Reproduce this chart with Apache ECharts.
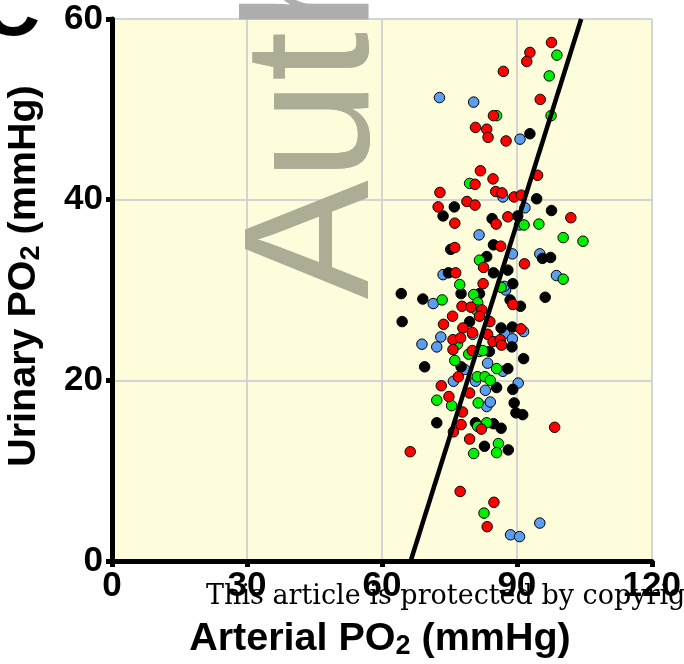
<!DOCTYPE html>
<html>
<head>
<meta charset="utf-8">
<script src="https://cdn.jsdelivr.net/npm/echarts@6/dist/echarts.min.js"></script>
<style>
html,body{margin:0;padding:0;background:#fff;}
#chart{width:684px;height:664px;}
</style>
</head>
<body>
<div id="chart"></div>
<script>
// Arterial PO2 (x) vs Urinary PO2 (y), four groups
const redPts = [
[97.7,57.4],[92.9,56.3],[92.2,55.3],[87.0,54.2],[95.2,51.1],[84.8,49.3],[80.8,48.0],[83.3,47.8],[83.6,46.9],[87.6,46.5],
[81.9,43.2],[84.7,42.3],[94.6,42.7],[80.7,41.7],[72.9,40.8],[85.3,40.9],[86.7,40.75],[89.4,40.3],[91.0,40.5],[72.5,39.2],
[78.9,39.8],[80.7,39.4],[76.2,37.4],[85.4,37.3],[88.0,38.1],[102.0,38.0],[76.2,34.7],[86.4,34.85],[91.7,32.9],[82.6,32.5],
[76.4,31.9],[82.5,30.7],[89.1,28.4],[77.8,28.2],[79.8,28.1],[82.2,27.8],[81.7,27.1],[75.7,27.1],[73.7,26.2],[84.0,26.5],
[78.0,25.8],[80.1,25.3],[90.9,25.7],[75.8,24.5],[77.5,24.7],[75.8,23.4],[83.5,25.1],[84.7,24.3],[86.3,24.5],[86.6,23.9],
[80.1,23.3],[77.0,20.4],[73.2,19.4],[74.9,18.2],[79.5,18.6],[77.9,16.5],[77.6,15.1],[75.9,14.3],[82.1,14.6],[98.4,14.8],
[79.5,13.5],[66.3,12.1],[77.4,7.7],[84.9,6.5],[83.4,3.8]
];
const blackPts = [
[92.9,47.3],[94.4,40.1],[76.1,39.2],[73.6,38.2],[84.5,37.9],[90.2,38.2],[97.7,38.8],[75.3,34.5],[84.8,35.0],[97.5,33.6],
[95.7,33.5],[83.3,33.7],[84.8,31.9],[88.0,32.2],[74.8,31.9],[89.1,30.7],[64.3,29.6],[69.1,29.0],[77.6,29.6],[81.7,29.6],
[88.5,28.9],[90.8,28.2],[96.3,29.2],[64.5,26.5],[79.5,26.5],[86.5,25.8],[89.0,25.9],[88.9,23.7],[83.9,23.2],[91.5,22.4],
[69.5,21.5],[88.0,21.3],[85.5,19.2],[89.1,19.0],[89.4,17.5],[89.8,16.4],[91.3,16.2],[72.2,15.3],[80.8,15.3],[84.8,15.2],
[86.5,14.7],[82.8,12.7],[88.1,12.3],[77.6,21.5]
];
const bluePts = [
[72.8,51.3],[80.4,50.8],[90.7,46.7],[86.9,40.3],[91.8,39.1],[90.6,37.2],[81.6,36.1],[89.0,34.0],[95.1,34.0],[73.6,31.7],
[87.5,30.0],[87.2,30.4],[98.8,31.6],[71.4,28.5],[91.5,25.4],[73.1,24.8],[68.9,24.0],[72.2,23.7],[80.2,25.1],[87.3,25.2],
[89.0,24.6],[81.7,23.2],[78.4,21.2],[83.5,21.9],[86.9,21.0],[80.8,19.9],[75.9,19.9],[90.3,19.7],[83.0,18.9],[83.3,17.1],
[84.1,17.6],[95.1,4.2],[88.6,2.9],[90.6,2.7]
];
const greenPts = [
[98.9,56.0],[97.2,53.7],[85.5,49.3],[97.6,49.3],[79.5,41.8],[91.6,37.2],[94.9,37.3],[100.3,35.8],[104.7,35.4],[81.7,33.3],
[77.3,30.6],[86.5,30.3],[100.3,31.2],[73.4,28.9],[80.4,29.5],[81.3,28.6],[81.0,27.8],[76.8,24.0],[82.4,23.3],[79.3,22.9],
[76.2,22.2],[85.5,21.3],[81.2,20.4],[82.9,20.4],[84.1,20.0],[72.2,17.8],[75.5,17.2],[81.4,17.5],[83.3,15.3],[81.3,14.9],
[85.9,13.0],[80.4,11.9],[85.5,12.0],[82.7,5.3]
];
const fitLine = [[66.4,0],[104.3,60]];
const xTicks = [0,30,60,90,120];
const yTicks = [0,20,40,60];

const chart = echarts.init(document.getElementById('chart'), null, {renderer:'canvas'});
const FONT = 'Liberation Sans, Arial, sans-serif';
function axisCommon(){
  return {
    type:'value',
    axisLine:{show:true,onZero:false,lineStyle:{color:'#000',width:5}},
    axisTick:{show:true,length:6,lineStyle:{color:'#000',width:5}},
    axisLabel:{color:'#000',fontSize:35,fontWeight:'bold',fontFamily:FONT},
    splitLine:{show:true,lineStyle:{color:'#D4D4D4',width:2}}
  };
}
const xa = axisCommon();
Object.assign(xa,{min:xTicks[0],max:xTicks[xTicks.length-1],interval:xTicks[1]-xTicks[0]});
xa.axisLabel.margin = 8;
const ya = axisCommon();
Object.assign(ya,{min:yTicks[0],max:yTicks[yTicks.length-1],interval:yTicks[1]-yTicks[0]});
ya.axisLabel.margin = 9;

function sc(data,color,z){
  return {type:'scatter',data:data,symbol:'circle',symbolSize:10.5,z:z,
    itemStyle:{color:color,borderColor:'#000',borderWidth:1,opacity:1}};
}
const rich = {
  a:{fontSize:39.5,fontWeight:'bold',fontFamily:FONT,color:'#000',lineHeight:42},
  b:{fontSize:27,fontWeight:'bold',fontFamily:FONT,color:'#000',lineHeight:14,verticalAlign:'bottom'}
};
const wmX = 408, wmY = 299;
const wmStyle = {fontSize:178,fontFamily:FONT,textAlign:'left',textVerticalAlign:'bottom'};
chart.setOption({
  animation:false,
  backgroundColor:'#fff',
  grid:{left:112,right:31,top:19,bottom:103,show:true,backgroundColor:'#FDFDDB',borderWidth:0},
  xAxis:xa,
  yAxis:ya,
  series:[
    sc(bluePts,'#5B9EF0',3),
    sc(blackPts,'#000000',4),
    sc(greenPts,'#00EE00',5),
    sc(redPts,'#FF0000',6),
    {type:'line',data:fitLine,symbol:'none',z:10,lineStyle:{color:'#000',width:4.5},clip:true}
  ],
  graphic:[
    {type:'text',x:wmX,y:wmY,rotation:Math.PI/2,z:100,silent:true,
      style:Object.assign({text:'Author Manuscript',fill:'#AEAEAE'},wmStyle)},
    {type:'text',x:wmX,y:wmY,rotation:Math.PI/2,z:101,silent:true,
      style:Object.assign({text:'Aut',fill:'#ADAD95'},wmStyle)},
    {type:'text',x:40,y:13,z:100,silent:true,
      style:{text:'C',fontSize:80,fontWeight:'bold',fontFamily:FONT,fill:'#000',textAlign:'right',textVerticalAlign:'middle'}},
    {type:'text',x:206,y:597,z:50,silent:true,
      style:{text:'This article is protected by copyright. All rights reserved',fontSize:27,fontFamily:'DejaVu Serif, serif',fill:'#000',textAlign:'left',textVerticalAlign:'middle'}},
    {type:'text',x:380,y:639,z:100,silent:true,
      style:{text:'{a|Arterial PO}{b|2}{a| (mmHg)}',rich:rich,textAlign:'center',textVerticalAlign:'middle'}},
    {type:'text',x:24,y:276,rotation:Math.PI/2,z:100,silent:true,
      style:{text:'{a|Urinary PO}{b|2}{a| (mmHg)}',rich:rich,textAlign:'center',textVerticalAlign:'middle'}}
  ]
});
</script>
</body>
</html>
